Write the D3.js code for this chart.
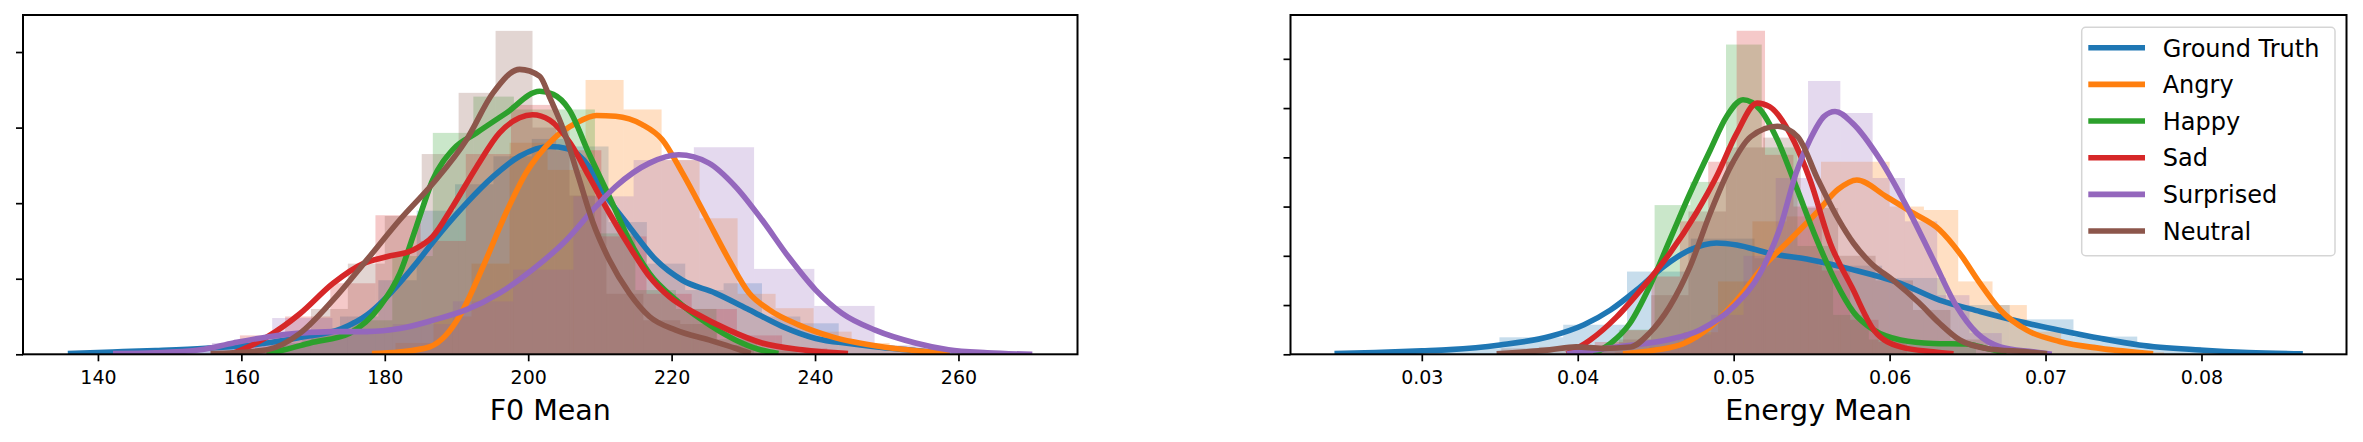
<!DOCTYPE html>
<html>
<head>
<meta charset="utf-8">
<script src="https://cdn.jsdelivr.net/npm/d3@7"></script>
<style>
  html, body { margin: 0; padding: 0; background: #ffffff; }
  svg { display: block; }
  text { font-family: "DejaVu Sans", sans-serif; fill: #000; }
</style>
</head>
<body>
<svg id="chart" width="2363" height="442"></svg>
<script>
// ---------------- DATA ----------------
const seriesNames = ["Ground Truth", "Angry", "Happy", "Sad", "Surprised", "Neutral"];
const seriesColors = ["#1f77b4", "#ff7f0e", "#2ca02c", "#d62728", "#9467bd", "#8c564b"];

// F0 Mean panel: histogram bins (first edge, bin width, densities)
const f0BinStart = [136.3, 181.5, 164.1, 159.8, 147.5, 159.4];
const f0BinWidth = [5.35, 5.3, 5.65, 6.3, 8.4, 5.15];
const f0HistGT        = [0.0002,0.0004,0.0006,0.0008,0.0010,0.0015,0.0026,0.0050,0.0098,0.0190,0.0225,0.0262,0.0285,0.0275,0.0175,0.0120,0.0085,0.0094,0.0050,0.0041,0.0015,0.0009,0.0004];
const f0HistAngry     = [0.0015,0.0050,0.0120,0.0280,0.0244,0.0363,0.0324,0.0257,0.0180,0.0080,0.0061,0.0030,0.0015,0.0008];
const f0HistHappy     = [0.0012,0.0030,0.0045,0.0130,0.0293,0.0341,0.0324,0.0324,0.0160,0.0085,0.0060,0.0020,0.0005];
const f0HistSad       = [0.0025,0.0050,0.0094,0.0184,0.0150,0.0265,0.0330,0.0270,0.0156,0.0080,0.0060,0.0025,0.0008];
const f0HistSurprised = [0.0008,0.0015,0.0048,0.0030,0.0040,0.0070,0.0112,0.0209,0.0257,0.0274,0.0113,0.0064,0.0012,0.0003];
const f0HistNeutral   = [0.0006,0.0022,0.0060,0.0120,0.0183,0.0265,0.0346,0.0428,0.0300,0.0210,0.0080,0.0045,0.0040,0.0012];

// F0 Mean panel: KDE curves [value, density]
const f0KdeGT = [[135.8,0.0001],[142,0.0003],[148,0.0005],[155,0.0008],[162,0.0013],[168,0.0022],[174,0.0034],[177.5,0.0052],[180.3,0.0076],[184,0.0116],[187.7,0.016],[191.4,0.020],[195.1,0.0235],[198.8,0.0262],[203,0.0275],[205.5,0.0272],[208.5,0.0248],[210.5,0.0215],[214.1,0.0169],[217.8,0.0125],[221.5,0.0098],[226.1,0.0081],[230.8,0.0059],[235.4,0.0037],[240.1,0.0021],[245,0.0014],[249.3,0.0009],[254,0.0005],[258.3,0.0001]];
const f0KdeAngry = [[178.2,0.0001],[182,0.0003],[186.3,0.001],[188.5,0.0025],[190.4,0.005],[193.7,0.0116],[196.9,0.0187],[199.7,0.024],[203.4,0.0284],[206.7,0.0306],[209.5,0.0316],[212.2,0.0315],[215.9,0.0304],[218.7,0.0284],[221.5,0.024],[224.8,0.0182],[228,0.0125],[230.8,0.0081],[233.6,0.0059],[237.7,0.0039],[242.4,0.0023],[249.3,0.001],[255,0.0004],[258.8,0.0001]];
const f0KdeHappy = [[163.5,0.0001],[166,0.0006],[169.6,0.0015],[175.1,0.0028],[179.3,0.0063],[182.1,0.0107],[184.4,0.0169],[186.7,0.0231],[189.5,0.0271],[192.8,0.0293],[196.9,0.0319],[201.6,0.0348],[203.5,0.0344],[205.7,0.0324],[208.5,0.0265],[211.3,0.0209],[214.1,0.0151],[216.9,0.0107],[220.6,0.0072],[224.3,0.0045],[228.9,0.0019],[232,0.0007],[234.9,0.0001]];
const f0KdeSad = [[158.7,0.0001],[161,0.001],[163.6,0.0023],[168.2,0.0054],[172.8,0.0094],[177,0.012],[180.25,0.0129],[183.95,0.0138],[186.7,0.0156],[189.5,0.0196],[192.8,0.0248],[196,0.0293],[198.8,0.0313],[200.6,0.0317],[203,0.031],[205.9,0.0279],[208.5,0.0235],[211.3,0.0187],[214.1,0.0143],[216.9,0.0103],[219.7,0.0076],[223.4,0.0054],[228,0.0032],[232.6,0.0015],[238.2,0.0006],[244.6,0.0001]];
const f0KdeSurprised = [[142.1,0.0001],[148,0.0002],[154.3,0.0006],[158.9,0.0015],[163.6,0.0023],[168.2,0.0028],[172.8,0.003],[177.5,0.003],[182.1,0.0034],[186.7,0.0045],[191.4,0.0059],[196,0.0081],[200.6,0.0112],[205.3,0.0151],[209.5,0.0196],[212.2,0.0222],[216.9,0.0253],[221,0.0264],[225.2,0.0253],[228.9,0.0222],[232.6,0.0178],[236.3,0.0129],[240.1,0.0085],[243.8,0.0054],[248.4,0.0032],[254,0.0015],[258.6,0.0006],[264,0.0002],[270.3,0.0]];
const f0KdeNeutral = [[155.7,0.0001],[158.9,0.0002],[163.6,0.0006],[168.2,0.0028],[172.8,0.0072],[177.5,0.0125],[182.1,0.0178],[186.7,0.0226],[191.4,0.0284],[195.1,0.0346],[198.8,0.0377],[201.6,0.0368],[203,0.034],[205,0.0295],[207,0.0235],[209,0.0175],[211.3,0.0125],[214.1,0.0081],[216.9,0.005],[220.6,0.0032],[225.2,0.0019],[228.9,0.0008],[231,0.0001]];

// Energy Mean panel: histogram bins
const enBinStart = [0.0268, 0.0424, 0.04035, 0.03927, 0.04028, 0.0351];
const enBinWidth = [0.00409, 0.0022, 0.00229, 0.00182, 0.00207, 0.0024];
const enHistGT        = [0.6,1.2,3.45,6.0,16.8,23.5,19.5,18.0,15.5,10.0,7.1,3.6,1.5,0.5];
const enHistAngry     = [0.5,1.5,4.5,14.8,27.0,28.0,39.1,39.1,30.0,29.3,14.8,10.0,4.6,2.0,1.0,0.4];
const enHistHappy     = [1.0,5.0,30.3,35.0,62.9,42.0,22.0,8.0,3.0,2.0,2.5];
const enHistSad       = [0.5,2.5,4.9,15.8,27.0,39.1,65.7,40.5,30.0,17.0,7.0,2.5];
const enHistSurprised = [1.0,2.0,3.0,4.0,8.0,20.0,35.8,55.5,49.0,35.8,27.0,12.0,4.3,1.0];
const enHistNeutral   = [1.2,1.5,1.0,3.0,12.0,29.0,42.0,44.0,29.7,20.0,15.0,9.0,3.0,1.0];

// Energy Mean panel: KDE curves
const enKdeGT = [[0.0244,0.15],[0.0270,0.35],[0.0300,0.7],[0.0318,0.95],[0.0350,1.9],[0.0382,3.6],[0.0404,6.0],[0.0421,9.0],[0.0438,13.1],[0.0455,17.8],[0.0472,21.2],[0.0489,22.6],[0.0502,22.2],[0.0523,20.5],[0.0549,19.2],[0.0575,17.3],[0.0607,14.4],[0.0632,11.0],[0.0658,8.7],[0.0684,6.6],[0.0709,4.9],[0.0735,3.25],[0.0760,1.9],[0.0799,0.87],[0.0830,0.35],[0.0865,0.1]];
const enKdeAngry = [[0.0429,0.1],[0.0451,0.9],[0.0468,2.2],[0.0485,5.6],[0.0502,11.0],[0.0519,17.8],[0.0536,23.2],[0.0553,28.7],[0.0567,33.5],[0.0579,35.4],[0.0598,32.0],[0.0615,28.7],[0.0632,25.3],[0.0645,20.5],[0.0658,14.4],[0.0671,9.0],[0.0688,4.9],[0.0709,2.6],[0.0735,1.2],[0.0769,0.1]];
const enKdeHappy = [[0.0410,0.1],[0.0421,2.2],[0.04335,6.3],[0.0446,13.7],[0.0459,23.2],[0.0472,32.7],[0.0485,41.5],[0.04955,48.3],[0.0506,51.7],[0.0517,49.7],[0.0528,43.6],[0.0540,34.1],[0.0553,23.5],[0.0565,15.0],[0.0577,8.5],[0.0590,4.9],[0.0607,2.9],[0.0628,2.2],[0.0649,2.1],[0.0662,1.2],[0.0675,0.2]];
const enKdeSad = [[0.0393,0.1],[0.0408,2.9],[0.0425,7.6],[0.0442,13.7],[0.0459,20.5],[0.0476,28.7],[0.0489,36.1],[0.0502,44.9],[0.0515,51.0],[0.0523,50.3],[0.0536,44.9],[0.0549,35.4],[0.0562,22.5],[0.0576,13.5],[0.0590,4.9],[0.0607,1.5],[0.0628,0.5],[0.0641,0.1]];
const enKdeSurprised = [[0.0393,0.1],[0.0425,1.5],[0.0457,2.9],[0.0478,4.9],[0.0500,9.7],[0.0517,16.5],[0.0530,25.9],[0.0540,36.8],[0.0549,43.6],[0.0558,48.3],[0.0565,49.3],[0.0576,47.0],[0.0594,39.5],[0.0611,30.0],[0.0628,19.2],[0.0643,9.7],[0.0656,4.3],[0.0671,1.5],[0.0692,0.5],[0.0704,0.0]];
const enKdeNeutral = [[0.0348,0.1],[0.0382,0.9],[0.0399,1.5],[0.0416,1.2],[0.0434,1.5],[0.0446,4.3],[0.0459,9.7],[0.0472,17.8],[0.0485,28.7],[0.0498,38.1],[0.0511,44.2],[0.0528,46.3],[0.0541,44.2],[0.0554,35.5],[0.0567,27.5],[0.0577,22.5],[0.0588,18.5],[0.0602,15.1],[0.0619,10.4],[0.0632,6.3],[0.0645,2.9],[0.0662,1.2],[0.0688,0.5],[0.0701,0.1]];

// Axis ticks
const f0XTicks = [140, 160, 180, 200, 220, 240, 260];
const f0YTicks = [0, 0.01, 0.02, 0.03, 0.04];
const enXTicks = [0.03, 0.04, 0.05, 0.06, 0.07, 0.08];
const enYTicks = [0, 10, 20, 30, 40, 50, 60];

// ---------------- DRAW ----------------
const svg = d3.select("#chart");
const plotTop = 15, plotBottom = 354.3;

const panels = [
  { id: "f0", left: 23, right: 1077.5, xDomain: [129.55, 276.6], yMax: 0.0449,
    starts: f0BinStart, widths: f0BinWidth,
    hists: [f0HistGT, f0HistAngry, f0HistHappy, f0HistSad, f0HistSurprised, f0HistNeutral],
    kdes: [f0KdeGT, f0KdeAngry, f0KdeHappy, f0KdeSad, f0KdeSurprised, f0KdeNeutral],
    xTicks: f0XTicks, yTicks: f0YTicks, fmt: d3.format("d"), label: "F0 Mean", legend: false },
  { id: "en", left: 1290.5, right: 2346.5, xDomain: [0.02158, 0.0893], yMax: 68.9,
    starts: enBinStart, widths: enBinWidth,
    hists: [enHistGT, enHistAngry, enHistHappy, enHistSad, enHistSurprised, enHistNeutral],
    kdes: [enKdeGT, enKdeAngry, enKdeHappy, enKdeSad, enKdeSurprised, enKdeNeutral],
    xTicks: enXTicks, yTicks: enYTicks, fmt: d3.format(".2f"), label: "Energy Mean", legend: true }
];

panels.forEach(p => {
  const x = d3.scaleLinear().domain(p.xDomain).range([p.left, p.right]);
  const y = d3.scaleLinear().domain([0, p.yMax]).range([plotBottom, plotTop]);

  svg.append("clipPath").attr("id", "clip-" + p.id)
    .append("rect").attr("x", p.left).attr("y", plotTop)
    .attr("width", p.right - p.left).attr("height", plotBottom - plotTop);

  const g = svg.append("g").attr("clip-path", "url(#clip-" + p.id + ")");

  // histograms (all patches first, as in matplotlib zorder)
  p.hists.forEach((heights, si) => {
    const bins = heights.map((h, i) => ({
      x0: p.starts[si] + i * p.widths[si],
      x1: p.starts[si] + (i + 1) * p.widths[si],
      h: h
    }));
    g.append("g").selectAll("rect").data(bins).join("rect")
      .attr("x", d => x(d.x0))
      .attr("width", d => x(d.x1) - x(d.x0))
      .attr("y", d => y(d.h))
      .attr("height", d => y(0) - y(d.h))
      .attr("fill", seriesColors[si])
      .attr("fill-opacity", 0.25);
  });

  // KDE lines
  const line = d3.line().x(d => x(d[0])).y(d => y(d[1])).curve(d3.curveMonotoneX);
  p.kdes.forEach((pts, si) => {
    g.append("path").datum(pts)
      .attr("d", line)
      .attr("fill", "none")
      .attr("stroke", seriesColors[si])
      .attr("stroke-width", 5.6)
      .attr("stroke-linejoin", "round")
      .attr("stroke-linecap", "butt");
  });

  // axes
  const xAxis = d3.axisBottom(x).tickValues(p.xTicks).tickFormat(p.fmt)
    .tickSizeInner(7).tickSizeOuter(0).tickPadding(9);
  const gx = svg.append("g").attr("transform", `translate(0,${plotBottom})`).call(xAxis);
  gx.select(".domain").remove();
  gx.selectAll(".tick line").attr("stroke", "#000").attr("stroke-width", 1.7);
  gx.selectAll(".tick text").attr("font-size", "19px").attr("font-family", "DejaVu Sans").attr("fill", "#000");

  const yAxis = d3.axisLeft(y).tickValues(p.yTicks).tickFormat(() => "")
    .tickSizeInner(7).tickSizeOuter(0);
  const gy = svg.append("g").attr("transform", `translate(${p.left},0)`).call(yAxis);
  gy.select(".domain").remove();
  gy.selectAll(".tick line").attr("stroke", "#000").attr("stroke-width", 1.7);

  // frame
  svg.append("rect")
    .attr("x", p.left).attr("y", plotTop)
    .attr("width", p.right - p.left).attr("height", plotBottom - plotTop)
    .attr("fill", "none").attr("stroke", "#000").attr("stroke-width", 2);

  // axis label
  svg.append("text")
    .attr("x", (p.left + p.right) / 2).attr("y", 420)
    .attr("text-anchor", "middle")
    .attr("font-size", "28.5px")
    .text(p.label);

  if (p.legend) {
    const lg = svg.append("g");
    lg.append("rect")
      .attr("x", 2081.7).attr("y", 27.3).attr("width", 253.3).attr("height", 228.4)
      .attr("rx", 4).attr("ry", 4)
      .attr("fill", "#ffffff").attr("fill-opacity", 0.8)
      .attr("stroke", "#d5d5d5").attr("stroke-width", 1.5);
    const rowY = d3.scaleLinear().domain([0, 5]).range([47.7, 231]);
    seriesNames.forEach((name, i) => {
      lg.append("line")
        .attr("x1", 2088.3).attr("x2", 2145)
        .attr("y1", rowY(i)).attr("y2", rowY(i))
        .attr("stroke", seriesColors[i]).attr("stroke-width", 5.6);
      lg.append("text")
        .attr("x", 2162.7).attr("y", rowY(i) + 8.8)
        .attr("font-size", "24px")
        .text(name);
    });
  }
});
</script>
</body>
</html>
